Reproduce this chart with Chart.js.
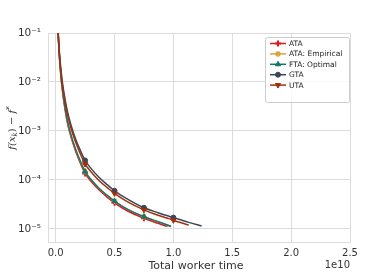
<!DOCTYPE html>
<html>
<head>
<meta charset="utf-8">
<script src="https://cdn.jsdelivr.net/npm/chart.js@4/dist/chart.umd.min.js"></script>
<style>
  html, body { margin: 0; padding: 0; background: #fff; }
  #wrap { width: 389px; height: 272px; }
</style>
</head>
<body>
<div id="wrap"><canvas id="conv-chart" width="389" height="272"></canvas></div>
<script>
// total worker time, in units of 1e10
const workerTime = [0.02, 0.03, 0.045, 0.06, 0.08, 0.1, 0.13, 0.17, 0.21, 0.25, 0.3, 0.37,
                    0.44, 0.5, 0.6, 0.75, 0.87, 0.95, 0.98, 1.0, 1.13, 1.24];
// f(x_k) - f*, null once a run has finished
const ataGap = [0.11, 0.037, 0.0127, 0.0059, 0.0027, 0.00145, 7.6e-4, 3.85e-4, 2.2e-4, 1.36e-4, 9.4e-5, 6.2e-5,
                4.4e-5, 3.4e-5, 2.4e-5, 1.65e-5, 1.3e-5, 1.12e-5, null, null, null, null];
const ataEmpiricalGap = [0.115, 0.040, 0.0138, 0.0064, 0.003, 0.0016, 8.3e-4, 4.2e-4, 2.4e-4, 1.48e-4, 1.02e-4, 6.7e-5,
                         4.8e-5, 3.7e-5, 2.6e-5, 1.78e-5, 1.4e-5, 1.2e-5, 1.12e-5, null, null, null];
const ftaGap = [0.115, 0.040, 0.0138, 0.0064, 0.003, 0.0016, 8.3e-4, 4.2e-4, 2.4e-4, 1.48e-4, 1.02e-4, 6.7e-5,
                4.8e-5, 3.7e-5, 2.6e-5, 1.78e-5, 1.4e-5, 1.2e-5, 1.12e-5, null, null, null];
const gtaGap = [0.126, 0.047, 0.0178, 0.0088, 0.0044, 0.0025, 0.00132, 6.8e-4, 4.0e-4, 2.5e-4, 1.72e-4, 1.12e-4,
                7.9e-5, 6.0e-5, 4.2e-5, 2.7e-5, 2.14e-5, 1.85e-5, 1.76e-5, 1.7e-5, 1.36e-5, 1.15e-5];
const utaGap = [0.11, 0.041, 0.0155, 0.0077, 0.0038, 0.0022, 0.00115, 5.9e-4, 3.4e-4, 2.1e-4, 1.47e-4, 9.6e-5,
                6.9e-5, 5.3e-5, 3.7e-5, 2.45e-5, 1.9e-5, 1.65e-5, 1.57e-5, 1.5e-5, 1.2e-5, null];
const markerTimes = [0.25, 0.5, 0.75, 1.0];
const xTicks = [0, 0.5, 1.0, 1.5, 2.0, 2.5];
const yTicks = [1e-5, 1e-4, 1e-3, 1e-2, 1e-1];
const yTickLabels = ['10\u207B\u2075', '10\u207B\u2074', '10\u207B\u00B3', '10\u207B\u00B2', '10\u207B\u00B9'];

const gridColor = '#dcdcdc';
const textColor = '#333';

function toPoints(values) {
    return workerTime.map((t, i) => ({ x: t, y: values[i] }));
}

function makeSeries(label, values, color, style, rotation, order, radius, markerWidth) {
    return {
        label: label,
        data: toPoints(values),
        borderColor: color,
        backgroundColor: color,
        borderWidth: 1.5,
        pointStyle: style,
        rotation: rotation,
        markerRadius: radius,
        pointBorderWidth: markerWidth,
        pointRadius: ctx => (ctx.raw && markerTimes.includes(ctx.raw.x) && ctx.raw.y !== null) ? radius : 0,
        pointHoverRadius: 0,
        cubicInterpolationMode: 'monotone',
        spanGaps: false,
        order: order
    };
}

const datasets = [
    makeSeries('ATA', ataGap, '#e0161b', 'cross', 0, 5, 3, 2),
    makeSeries('ATA: Empirical', ataEmpiricalGap, '#d9a23b', 'star', 0, 4, 3, 1.2),
    makeSeries('FTA: Optimal', ftaGap, '#15756d', 'triangle', 0, 3, 3, 1),
    makeSeries('GTA', gtaGap, '#3b4656', 'circle', 0, 2, 2.5, 1),
    makeSeries('UTA', utaGap, '#a0300d', 'triangle', 180, 1, 3, 1)
];

// legend with line + marker samples, plus the axis texts
const decorPlugin = {
    id: 'decor',
    afterDraw(chart) {
        const c = chart.ctx;
        const area = chart.chartArea;
        c.save();

        // axis titles
        c.fillStyle = textColor;
        c.font = '11px "DejaVu Sans"';
        c.textAlign = 'center';
        c.textBaseline = 'middle';
        c.fillText('Total worker time', (area.left + area.right) / 2 - 3, 266);
        c.font = '10px "DejaVu Sans"';
        c.textAlign = 'right';
        c.fillText('1e10', area.right, 265);

        c.save();
        c.translate(12.5, 128);
        c.rotate(-Math.PI / 2);
        c.textAlign = 'left';
        let parts = [['f(x', 0, 10, true], ['k', 2.5, 7, true], [')', 0, 10, false], [' \u2212 ', 0, 10, false],
                     ['f', 0, 10, true], ['*', -3, 7, false]];
        let total = 0;
        parts.forEach(p => {
            c.font = (p[3] ? 'italic ' : '') + p[2] + 'px "DejaVu Serif"';
            total += c.measureText(p[0]).width;
        });
        let px = -total / 2;
        parts.forEach(p => {
            c.font = (p[3] ? 'italic ' : '') + p[2] + 'px "DejaVu Serif"';
            c.fillText(p[0], px, p[1]);
            px += c.measureText(p[0]).width;
        });
        c.restore();

        // legend box
        const bx = 265, by = 37, bw = 84, bh = 65;
        c.beginPath();
        c.roundRect(bx + 0.5, by + 0.5, bw, bh, 2);
        c.fillStyle = 'rgba(255,255,255,0.85)';
        c.fill();
        c.strokeStyle = '#cccccc';
        c.lineWidth = 1;
        c.stroke();

        c.font = '7.5px "DejaVu Sans"';
        c.textAlign = 'left';
        c.textBaseline = 'middle';
        chart.data.datasets.forEach((ds, i) => {
            const yy = 43.5 + i * 10.4;
            c.strokeStyle = ds.borderColor;
            c.lineWidth = 1.5;
            c.beginPath();
            c.moveTo(270, yy);
            c.lineTo(286, yy);
            c.stroke();
            c.fillStyle = ds.borderColor;
            c.lineWidth = ds.pointBorderWidth;
            Chart.helpers.drawPoint(c, {
                pointStyle: ds.pointStyle,
                rotation: ds.rotation,
                radius: ds.markerRadius,
                borderWidth: ds.pointBorderWidth
            }, 278, yy);
            c.fillStyle = '#222';
            c.fillText(ds.label, 289, yy + 0.5);
        });
        c.restore();
    }
};

new Chart(document.getElementById('conv-chart'), {
    type: 'line',
    data: { datasets: datasets },
    options: {
        responsive: false,
        animation: false,
        events: [],
        layout: { padding: { top: 33, right: 39, bottom: 0, left: 0 } },
        plugins: {
            legend: { display: false },
            tooltip: { enabled: false }
        },
        scales: {
            x: {
                type: 'linear',
                min: -0.065,
                max: 2.5,
                afterBuildTicks: scale => { scale.ticks = xTicks.map(v => ({ value: v })); },
                afterFit: scale => { scale.height = 30; },
                ticks: {
                    color: textColor,
                    font: { family: 'DejaVu Sans', size: 10 },
                    padding: 5,
                    maxRotation: 0,
                    callback: v => v.toFixed(1)
                },
                grid: { color: gridColor, lineWidth: 1, drawTicks: false },
                border: { color: gridColor, width: 1 }
            },
            y: {
                type: 'logarithmic',
                min: 5.4e-6,
                max: 0.1,
                afterBuildTicks: scale => { scale.ticks = yTicks.map(v => ({ value: v })); },
                afterFit: scale => { scale.width = 48; },
                ticks: {
                    color: textColor,
                    font: { family: 'DejaVu Sans', size: 10.5 },
                    padding: 7,
                    callback: v => {
                        const k = yTicks.findIndex(t => Math.abs(Math.log10(t) - Math.log10(v)) < 1e-6);
                        return k >= 0 ? yTickLabels[k] : '';
                    }
                },
                grid: { color: gridColor, lineWidth: 1, drawTicks: false },
                border: { color: gridColor, width: 1 }
            }
        }
    },
    plugins: [decorPlugin]
});
</script>
</body>
</html>
